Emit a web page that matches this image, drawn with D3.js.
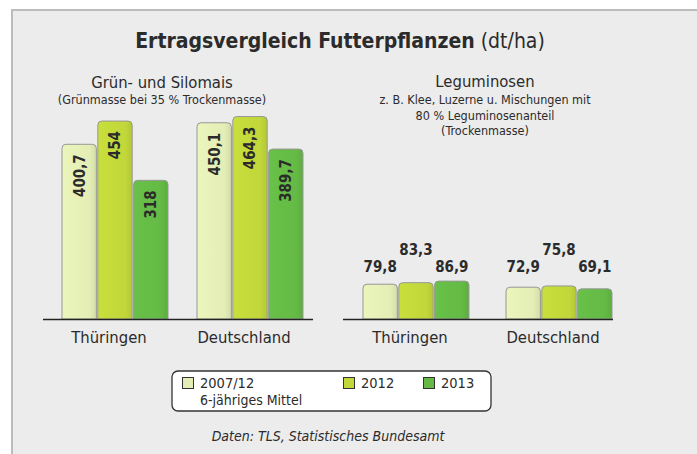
<!DOCTYPE html>
<meta charset="utf-8">
<style>
    body { margin: 0; background: #fff; }
    svg { display: block; }
    text { font-family: "DejaVu Sans Condensed", "DejaVu Sans", sans-serif; fill: #2b2b2b; }
    .val { font-weight: bold; font-size: 15px; }
</style>
<svg width="697" height="454"></svg>
<script src="https://cdn.jsdelivr.net/npm/d3@7"></script>
<script>

    // data
    var regions = ["Thüringen", "Deutschland"];
    var series = ["2007/12", "2012", "2013"];
    var seriesNote = ["6-jähriges Mittel", "", ""];
    var colors = ["#e3edb5", "#c1d73a", "#64ba45"];

    var maisValues = [[400.7, 454, 318], [450.1, 464.3, 389.7]];
    var legumValues = [[79.8, 83.3, 86.9], [72.9, 75.8, 69.1]];

    var svg = d3.select("svg");

    // panel
    svg.append("rect")
        .attr("x", 12).attr("y", 10)
        .attr("width", 700).attr("height", 460)
        .attr("fill", "#ebeceb")
        .attr("stroke", "#bcbcbc").attr("stroke-width", 2);

    // title
    var title = svg.append("text")
        .attr("x", 340).attr("y", 48)
        .attr("text-anchor", "middle")
        .style("font-size", "21px");
    title.append("tspan").attr("font-weight", "bold").text("Ertragsvergleich Futterpflanzen");
    title.append("tspan").text(" (dt/ha)");

    // subtitles
    function subtitle(x, lines) {
        lines.forEach(function (l) {
            svg.append("text")
                .attr("x", x).attr("y", l[1])
                .attr("text-anchor", "middle")
                .style("font-size", l[2] + "px")
                .text(l[0]);
        });
    }
    subtitle(162, [["Grün- und Silomais", 88, 16.5], ["(Grünmasse bei 35 % Trockenmasse)", 104, 12.5]]);
    subtitle(485, [["Leguminosen", 87, 16.5], ["z. B. Klee, Luzerne u. Mischungen mit", 104, 12.5],
        ["80 % Leguminosenanteil", 120, 12.5], ["(Trockenmasse)", 135, 12.5]]);

    var y = d3.scaleLinear().domain([0, 500]).range([319, 101]);

    // rounded-top bar
    function barPath(x, yTop, w, h) {
        var r = Math.min(4, h);
        return "M" + x + "," + (yTop + h) +
            "V" + (yTop + r) +
            "Q" + x + "," + yTop + " " + (x + r) + "," + yTop +
            "H" + (x + w - r) +
            "Q" + (x + w) + "," + yTop + " " + (x + w) + "," + (yTop + r) +
            "V" + (yTop + h) + "Z";
    }

    // gradients for a little shading
    var defs = svg.append("defs");
    colors.forEach(function (c, i) {
        var g = defs.append("linearGradient").attr("id", "g" + i)
            .attr("x1", 0).attr("x2", 1).attr("y1", 0).attr("y2", 0);
        g.append("stop").attr("offset", "0%").attr("stop-color", d3.color(c).brighter(0.1));
        g.append("stop").attr("offset", "80%").attr("stop-color", c);
        g.append("stop").attr("offset", "100%").attr("stop-color", d3.color(c).darker(0.2));
    });

    function drawGroup(values, rangeX, padInner, lineX, rotated) {
        var x0 = d3.scaleBand().domain(regions).range(rangeX).paddingInner(padInner);
        var x1 = d3.scaleBand().domain(series).range([0, x0.bandwidth()]).paddingInner(0.04);

        var grp = svg.selectAll(null)
            .data(regions).enter().append("g")
            .attr("transform", function (d) { return "translate(" + x0(d) + ",0)"; });

        var bar = grp.selectAll("g")
            .data(function (d, i) { return values[i].map(function (v, j) { return { s: series[j], v: v, j: j }; }); })
            .enter().append("g");

        bar.append("path")
            .attr("d", function (d) { return barPath(x1(d.s), y(d.v), x1.bandwidth(), y(0) - y(d.v)); })
            .attr("fill", function (d) { return "url(#g" + d.j + ")"; })
            .attr("stroke", "#979797")
            .attr("stroke-width", 1);

        if (rotated) {
            bar.append("text")
                .attr("class", "val")
                .attr("text-anchor", "end")
                .attr("transform", function (d) {
                    return "translate(" + (x1(d.s) + x1.bandwidth() / 2) + "," + (y(d.v) + 10) + ") rotate(-90)";
                })
                .attr("dy", "0.36em")
                .text(function (d) { return String(d.v).replace(".", ","); });
        } else {
            bar.append("text")
                .attr("class", "val")
                .attr("text-anchor", "middle")
                .attr("x", function (d) { return x1(d.s) + x1.bandwidth() / 2; })
                .attr("y", function (d) { return d.j === 1 ? 255 : 272; })
                .text(function (d) { return String(d.v).replace(".", ","); });
        }

        svg.append("line")
            .attr("x1", lineX[0]).attr("x2", lineX[1])
            .attr("y1", y(0) + 0.5).attr("y2", y(0) + 0.5)
            .attr("stroke", "#222").attr("stroke-width", 1.5);

        grp.append("text")
            .attr("x", x0.bandwidth() / 2 - 6)
            .attr("y", 343)
            .attr("text-anchor", "middle")
            .style("font-size", "16.5px")
            .text(function (d) { return d; });
    }

    drawGroup(maisValues, [62, 303], 0.215, [43, 313], true);
    drawGroup(legumValues, [363, 612], 0.259, [343, 613], false);

    // legend
    var leg = svg.append("g");
    leg.append("rect")
        .attr("x", 172).attr("y", 371).attr("width", 319).attr("height", 40)
        .attr("rx", 6)
        .attr("fill", "#fff").attr("stroke", "#333").attr("stroke-width", 1.3);
    var legX = [182, 343, 423];
    series.forEach(function (s, i) {
        leg.append("rect")
            .attr("x", legX[i] + 0.5).attr("y", 377.5).attr("width", 11).attr("height", 11)
            .attr("fill", colors[i]).attr("stroke", "#333").attr("stroke-width", 1);
        leg.append("text")
            .attr("x", legX[i] + 18).attr("y", 388)
            .style("font-size", "14.5px")
            .text(s);
        if (seriesNote[i]) {
            leg.append("text")
                .attr("x", legX[i] + 18).attr("y", 405)
                .style("font-size", "14px")
                .text(seriesNote[i]);
        }
    });

    svg.append("text")
        .attr("x", 328).attr("y", 441)
        .attr("text-anchor", "middle")
        .style("font-size", "14px").style("font-style", "italic")
        .text("Daten: TLS, Statistisches Bundesamt");

</script>
